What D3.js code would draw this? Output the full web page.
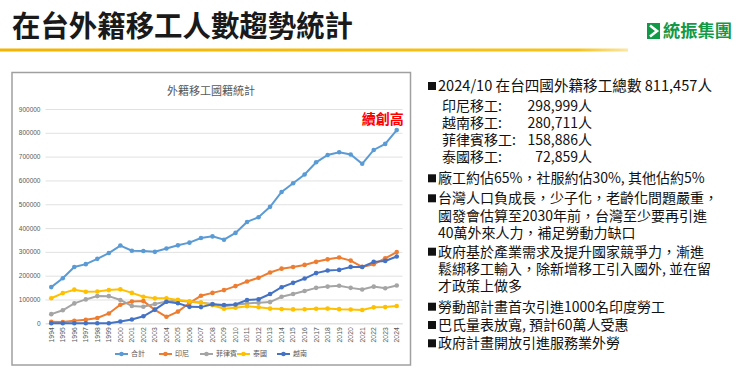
<!DOCTYPE html>
<html>
<head>
<meta charset="utf-8">
<script src="https://cdn.jsdelivr.net/npm/d3@7"></script>
<style>
    body { margin: 0; background: #fff; }
    text { font-family: "Noto Sans CJK TC", "Noto Sans", sans-serif; }
</style>
</head>
<body>
<div id="chart"></div>
<script>
// Data
var years       =   ["1994","1995","1996","1997","1998","1999","2000","2001","2002","2003",
                     "2004","2005","2006","2007","2008","2009","2010","2011","2012","2013",
                     "2014","2015","2016","2017","2018","2019","2020","2021","2022","2023","2024"];
var total       =   [151989,189051,236555,248396,270620,294967,326515,304605,303684,300150,
                     314034,327396,338755,357937,365060,351016,379653,425660,445579,489134,
                     551596,587940,624768,676142,706850,718058,709123,669992,728081,753430,811457];
var indonesia   =   [6020,5430,10206,14648,22058,41224,77830,91132,93212,56437,
                     27281,49094,85223,115490,127690,139404,156332,175409,191127,213234,
                     229491,236526,245180,258084,268576,276411,263358,237049,248000,273000,298999];
var philippines =   [38473,54647,83630,100295,114255,113928,98161,72779,69426,81355,
                     91150,95703,90054,86423,80636,72077,77538,82841,86786,89024,
                     111533,123058,135797,148786,154209,157487,148786,141802,154000,147000,158886];
var thailand    =   [105152,126903,141230,132717,133367,139526,142665,127732,111538,104728,
                     105281,98322,92894,86948,75584,61432,65742,71763,67611,61709,
                     59933,58372,58869,61176,61829,59445,58135,56000,67000,68000,72859];
var vietnam     =   [0,0,0,0,0,131,7746,15767,29487,57603,
                     90241,84185,69043,68000,80000,77000,79000,98000,101000,123000,
                     151558,169981,187950,210861,222000,224356,236835,236550,258000,262000,280711];
var seriesNames =   ["合計", "印尼", "菲律賓", "泰國", "越南"];
var yTicks      =   [0,100000,200000,300000,400000,500000,600000,700000,800000,900000];

var summary     =   [
    ["印尼移工:", "298,999人"],
    ["越南移工:", "280,711人"],
    ["菲律賓移工:", "158,886人"],
    ["泰國移工:", "72,859人"]
];
var bullets     =   [
    ["廠工約佔65%，社服約佔30%, 其他佔約5%"],
    ["台灣人口負成長，少子化，老齡化問題嚴重，", "國發會估算至2030年前，台灣至少要再引進", "40萬外來人力，補足勞動力缺口"],
    ["政府基於產業需求及提升國家競爭力，漸進", "鬆綁移工輸入，除新增移工引入國外, 並在留", "才政策上做多"],
    ["勞動部計畫首次引進1000名印度勞工"],
    ["巴氏量表放寬, 預計60萬人受惠"],
    ["政府計畫開放引進服務業外勞"]
];

var series      =   [total, indonesia, philippines, thailand, vietnam];
var colors      =   d3.scaleOrdinal()
    .domain(seriesNames)
    .range(["#5b9bd5", "#ed7d31", "#a5a5a5", "#ffc000", "#4472c4"]);

// SVG
var svg         =   d3.select("#chart")
    .append("svg")
    .attr("width", 740)
    .attr("height", 371);

// Header
svg.append("text")
    .attr("x", 12)
    .attr("y", 37)
    .attr("textLength", 341)
    .attr("lengthAdjust", "spacingAndGlyphs")
    .style("font-size", "29px")
    .style("font-weight", "bold")
    .style("fill", "#1a1a1a")
    .text("在台外籍移工人數趨勢統計");

var gold = svg.append("defs").append("linearGradient")
    .attr("id", "gold");
gold.append("stop").attr("offset", "0%").attr("stop-color", "#f4b400");
gold.append("stop").attr("offset", "92%").attr("stop-color", "#f7c31a");
gold.append("stop").attr("offset", "100%").attr("stop-color", "#fbe7a6");
svg.append("rect")
    .attr("x", 0).attr("y", 48.5)
    .attr("width", 628).attr("height", 3)
    .style("fill", "url(#gold)");

// logo
svg.append("rect")
    .attr("x", 647).attr("y", 23)
    .attr("width", 13).attr("height", 16)
    .style("fill", "#109a48");
svg.append("path")
    .attr("d", "M650,25.5 L657,31 L650,36.5")
    .style("fill", "none")
    .style("stroke", "#fff")
    .style("stroke-width", 2.6);
svg.append("text")
    .attr("x", 663)
    .attr("y", 37)
    .attr("textLength", 69)
    .attr("lengthAdjust", "spacingAndGlyphs")
    .style("font-size", "17px")
    .style("font-weight", "bold")
    .style("fill", "#109a48")
    .text("統振集團");

// Chart frame
svg.append("rect")
    .attr("x", 12).attr("y", 72.5)
    .attr("width", 398.5).attr("height", 292.5)
    .style("fill", "none")
    .style("stroke", "#a0a0a0")
    .style("stroke-width", 1.5);

svg.append("text")
    .attr("x", 211)
    .attr("y", 94.5)
    .attr("text-anchor", "middle")
    .style("font-size", "11px")
    .style("fill", "#595959")
    .text("外籍移工國籍統計");

// scales
var x = d3.scaleBand()
    .domain(years)
    .range([45.5, 402.5]);
var y = d3.scaleLinear()
    .domain([0, 900000])
    .range([323.3, 109]);

// grid + y labels
var yAxis = svg.append("g")
    .attr("transform", "translate(45.5,0)")
    .call(d3.axisLeft(y).tickValues(yTicks).tickSize(-357).tickPadding(5).tickFormat(d3.format("d")));
yAxis.select(".domain").remove();
yAxis.selectAll("line").style("stroke", "#d9d9d9").style("stroke-width", 0.8);
yAxis.selectAll("text")
    .style("font-family", "'Liberation Sans', sans-serif")
    .style("font-size", "6.5px")
    .style("fill", "#595959");

// x labels
var xAxis = svg.append("g")
    .attr("transform", "translate(0,323.3)")
    .call(d3.axisBottom(x).tickSize(0).tickPadding(0));
xAxis.select(".domain").style("stroke", "#d9d9d9").style("stroke-width", 0.8);
xAxis.selectAll("text")
    .attr("transform", "rotate(-90)")
    .attr("text-anchor", "end")
    .attr("x", -4)
    .attr("y", 0)
    .attr("dy", "0.35em")
    .style("font-family", "'Liberation Sans', sans-serif")
    .style("font-size", "6.8px")
    .style("fill", "#595959");

// Lines
var line = d3.line()
    .x(function(d, i) { return x(years[i]) + x.bandwidth() / 2; })
    .y(function(d) { return y(d); });

series.forEach(function(values, k) {
    var g = svg.append("g");
    g.append("path")
        .datum(values)
        .attr("d", line)
        .style("fill", "none")
        .style("stroke", colors(seriesNames[k]))
        .style("stroke-width", 2);
    g.selectAll("circle")
        .data(values)
        .enter()
        .append("circle")
        .attr("cx", function(d, i) { return x(years[i]) + x.bandwidth() / 2; })
        .attr("cy", function(d) { return y(d); })
        .attr("r", 2.3)
        .style("fill", colors(seriesNames[k]));
});

// 續創高
svg.append("text")
    .attr("x", x(years[years.length - 1]) + x.bandwidth() / 2 + 7)
    .attr("y", y(total[total.length - 1]) - 6)
    .attr("text-anchor", "end")
    .style("font-size", "14px")
    .style("font-weight", "bold")
    .style("fill", "#ff0000")
    .text("續創高");

// Legend
var legendX = [115, 159, 200, 237, 277];
var legend = svg.selectAll(".legend")
    .data(seriesNames)
    .enter()
    .append("g")
    .attr("transform", function(d, i) { return "translate(" + legendX[i] + ",354)"; });
legend.append("line")
    .attr("x1", 0).attr("x2", 13)
    .style("stroke", function(d) { return colors(d); })
    .style("stroke-width", 2);
legend.append("circle")
    .attr("cx", 6.5)
    .attr("r", 2.3)
    .style("fill", function(d) { return colors(d); });
legend.append("text")
    .attr("x", 16)
    .attr("dy", "0.35em")
    .style("font-size", "7px")
    .style("fill", "#595959")
    .text(function(d) { return d; });

// Right side text
var right = svg.append("g").style("fill", "#111");

function bullet(yy) {
    right.append("rect")
        .attr("x", 428).attr("y", yy - 4)
        .attr("width", 8).attr("height", 8)
        .style("fill", "#111");
}

bullet(86);
right.append("text")
    .attr("x", 438).attr("y", 86).attr("dy", "0.36em")
    .attr("textLength", 274)
    .attr("lengthAdjust", "spacingAndGlyphs")
    .style("font-size", "15px")
    .text("2024/10 在台四國外籍移工總數 811,457人");

summary.forEach(function(s, i) {
    var yy = 106 + i * 17.1;
    right.append("text")
        .attr("x", 442).attr("y", yy).attr("dy", "0.36em")
        .style("font-size", "14px")
        .text(s[0]);
    right.append("text")
        .attr("x", 592).attr("y", yy).attr("dy", "0.36em")
        .attr("text-anchor", "end")
        .style("font-size", "14px")
        .text(s[1]);
});

var bulletY = [178.3, 198.3, 251.7, 306.7, 325, 343.3];
bullets.forEach(function(lines, i) {
    bullet(bulletY[i]);
    lines.forEach(function(t, j) {
        right.append("text")
            .attr("x", 438)
            .attr("y", bulletY[i] + j * 17.3)
            .attr("dy", "0.36em")
            .style("font-size", "14px")
            .text(t);
    });
});
</script>
</body>
</html>
